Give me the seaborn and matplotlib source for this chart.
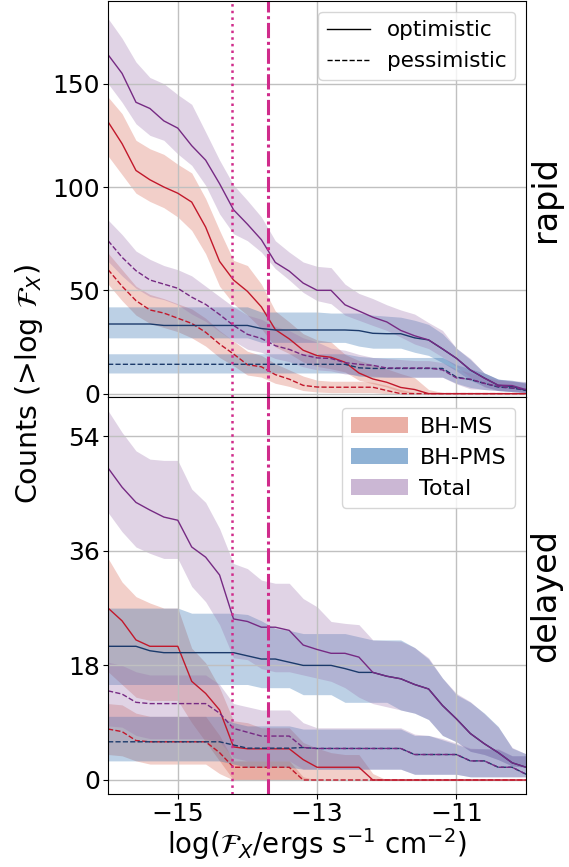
import pandas as pd
import seaborn as sns
import matplotlib
matplotlib.use("Agg")
import matplotlib.pyplot as plt
from matplotlib.lines import Line2D
from matplotlib.patches import Patch

# x grid, log flux
logF = [-16.0, -15.8, -15.6, -15.4, -15.2, -15.0, -14.8, -14.6, -14.4, -14.2, -14.0,
        -13.8, -13.6, -13.4, -13.2, -13.0, -12.8, -12.6, -12.4, -12.2, -12.0,
        -11.8, -11.6, -11.4, -11.2, -11.0, -10.8, -10.6, -10.4, -10.2, -10.0]

#### rapid
rapid_ms_opt = [131.5, 121, 108, 103.5, 100, 97, 92.7, 80.6, 64, 55, 49.5, 42, 31, 26.5, 21, 18.4,
                17.6, 15.2, 10, 7.1, 5.5, 3, 2, 0, 0, 0, 0, 0, 0, 0, 0]
rapid_ms_opt_hi = [143.5, 135.5, 122.6, 118.5, 115.8, 111, 106.8, 94.4, 79, 64.5, 62, 53, 40, 34.7, 29, 26,
                   25, 19, 16, 14.2, 12, 9.7, 7.7, 2, 0.5, 0.5, 0.5, 0.5, 0.5, 0.5, 0.5]
rapid_ms_opt_lo = [115, 106, 97, 93, 90, 85.5, 79, 67.7, 52, 43.5, 38, 31.5, 22.6, 19.4, 15.3, 13.2,
                   12, 10.5, 6.5, 4.8, 3.2, 0.8, 0.3, 0, 0, 0, 0, 0, 0, 0, 0]
rapid_ms_pes = [60, 52, 45, 40.5, 39, 36.5, 34, 29.7, 24, 19.2, 14, 13, 9.2, 7, 4, 3.2,
                3.1, 3.1, 3.1, 3.1, 1.5, 0, 0, 0, 0, 0, 0, 0, 0, 0, 0]
rapid_ms_pes_hi = [68, 60, 52, 48, 46, 43.5, 41, 36.5, 30.5, 25.5, 20.5, 18.5, 14.5, 11.5, 8.5, 6.5,
                   6, 6, 6, 5.5, 4, 2, 0.5, 0, 0, 0, 0, 0, 0, 0, 0]
rapid_ms_pes_lo = [53, 45, 38, 34, 32, 30, 27, 23, 17.5, 13.5, 9, 8, 5, 3.5, 1.5, 0.8,
                   0.5, 0.5, 0.5, 0.5, 0, 0, 0, 0, 0, 0, 0, 0, 0, 0, 0]

rapid_pms_opt = [33.7, 33.7, 33.7, 33.7, 33, 33, 33, 33, 33, 33, 33, 31.5, 30.8, 30.8, 30.8, 30.8,
                 30.8, 30.8, 30.5, 29.2, 29, 29, 27, 26, 21.6, 17.1, 11.4, 7.6, 4, 3.5, 1.5]
rapid_pms_opt_hi = [42, 42, 42, 42, 42, 42, 42, 42, 42, 42, 42, 39.5, 39.5, 39.5, 39.5, 39.5,
                    39, 39, 39, 38, 37.5, 37, 35.5, 33.5, 29, 22, 16.5, 10, 7, 6, 5.5]
rapid_pms_opt_lo = [27, 27, 27, 27, 27, 27, 27, 27, 27, 27, 27, 24.8, 24.8, 24.8, 24.8, 24.8,
                    24.8, 24.8, 23, 22, 22, 22, 20, 18.5, 15, 11, 6.5, 3.5, 1.5, 1, 0.5]
rapid_pms_pes = [14.2, 14.2, 14.2, 14.2, 14.2, 14.2, 14.2, 14.2, 14.2, 14.2, 14.2, 14.2, 14.2, 14.2, 14.2, 14.2,
                 14.2, 14.2, 12.5, 12.2, 12.2, 12.2, 12.2, 12.2, 12.2, 8, 6.8, 5, 3.2, 2.7, 1.6]
rapid_pms_pes_hi = [19.3, 19.3, 19.3, 19.3, 19.3, 19.3, 19.3, 19.3, 19.3, 19.3, 19.3, 19.3, 19.3, 19.3, 19.3, 19.3,
                    19.3, 19.3, 18, 17.5, 17.5, 17.5, 17.5, 17.5, 17.5, 14, 12, 10, 7, 6.5, 5]
rapid_pms_pes_lo = [10, 10, 10, 10, 10, 10, 10, 10, 10, 10, 10, 10, 10, 10, 10, 10,
                    10, 10, 8.5, 8, 8, 8, 8, 8, 8, 5, 3, 2, 1.5, 1, 0.5]

rapid_tot_opt = [164, 155, 141, 138, 132, 128.5, 120, 113, 101.6, 89, 82, 74.5, 63.5, 59.3, 53.5, 50,
                 50, 43, 40, 37, 34.7, 30.6, 28, 26, 21.7, 17.1, 11.5, 7.5, 4.1, 3.9, 1.9]
rapid_tot_opt_hi = [181.5, 172, 160.5, 153, 150, 144.7, 140, 126.6, 113, 101, 93.5, 85.5, 74, 68.5, 63.7, 61.6,
                    61, 53, 48.5, 46, 43, 40.5, 38.5, 34.4, 30.6, 22, 17, 10, 7, 6.3, 5.8]
rapid_tot_opt_lo = [150, 141, 130.6, 125, 122.6, 116, 110.5, 100.8, 87, 77.4, 74, 68.5, 60.5, 55, 49, 45,
                    43.5, 38, 35.5, 33, 30.6, 27.4, 24, 21.8, 17.7, 13, 8, 3.2, 1.6, 1.3, 0.8]
rapid_tot_pes = [74, 66, 59.5, 55, 53, 51, 46.7, 43.2, 38.3, 33, 28.7, 26.7, 23.2, 21.4, 18.7, 17.3,
                 17, 15, 14.2, 13.7, 12.4, 12.4, 12.4, 12.4, 11.5, 7.6, 7, 5, 3.5, 2.8, 2]
rapid_tot_pes_hi = [84, 77, 69, 65, 62, 60, 57, 52, 47, 42, 38, 36, 32.5, 30.5, 27, 25,
                    22, 21, 19, 17.5, 17, 16.5, 16, 16, 15, 12, 10, 8, 6.5, 6, 5]
rapid_tot_pes_lo = [64, 57, 51, 47, 45.5, 43, 38.5, 35, 30, 25.5, 21.5, 20, 17, 15.5, 13, 11.5,
                    11, 9.5, 9, 8.5, 8, 7.9, 7.9, 7.9, 7.9, 4.7, 2.3, 2, 1.5, 1, 0.5]

#### delayed
delayed_ms_opt = [27, 25, 22, 21, 21, 21, 15.5, 13.6, 11, 5.2, 4.9, 4.9, 4.9, 4.9, 3.2, 2,
                  2, 2, 2, 0, 0, 0, 0, 0, 0, 0, 0, 0, 0, 0, 0]
delayed_ms_opt_hi = [34.8, 31.1, 28.8, 27.8, 27, 27, 20.7, 18.4, 14.5, 9.3, 9, 8.2, 8.2, 8.2, 5.9, 5,
                     4.3, 4, 4, 1, 0, 0, 0, 0, 0, 0, 0, 0, 0, 0, 0]
delayed_ms_opt_lo = [17, 15, 13, 12.5, 12.5, 12.5, 9, 6, 3, 0, 0, 0, 0, 0, 0, 0,
                     0, 0, 0, 0, 0, 0, 0, 0, 0, 0, 0, 0, 0, 0, 0]
delayed_ms_pes = [8, 7.6, 6.2, 6, 6, 6, 6, 6, 4.3, 2, 2, 2, 2, 2, 0, 0,
                  0, 0, 0, 0, 0, 0, 0, 0, 0, 0, 0, 0, 0, 0, 0]
delayed_ms_pes_hi = [12, 11.8, 10.5, 10, 10, 10, 10, 10, 7, 3, 3, 3, 3, 3, 0.5, 0,
                     0, 0, 0, 0, 0, 0, 0, 0, 0, 0, 0, 0, 0, 0, 0]
delayed_ms_pes_lo = [4, 3.8, 3, 2.5, 2.5, 2.5, 2.5, 2.5, 1, 0, 0, 0, 0, 0, 0, 0,
                     0, 0, 0, 0, 0, 0, 0, 0, 0, 0, 0, 0, 0, 0, 0]

delayed_pms_opt = [21, 21, 21, 20.3, 20, 20, 20, 20, 20, 20, 19.5, 19, 19, 18.5, 18, 18,
                   18, 17.5, 16.9, 16.9, 16.3, 15.9, 15, 14.3, 11.7, 9.6, 7.3, 5.7, 4.3, 2.7, 2]
delayed_pms_opt_hi = [27, 27, 27, 27, 27, 27, 26.2, 26.2, 26.2, 26.2, 26, 25, 23.8, 23.5, 23, 23,
                      23, 23, 22.5, 22, 22, 22, 20.8, 19, 16, 13.4, 12.2, 10.5, 8.4, 5, 4.1]
delayed_pms_opt_lo = [15, 15, 15, 15, 15, 15, 15, 15, 15, 15, 15, 14.5, 14.5, 14.5, 13.4, 13.4,
                      13.4, 12.2, 12.2, 12.2, 12.2, 11, 10.5, 9.5, 7, 6, 4.5, 4, 3.2, 2.2, 2]
delayed_pms_pes = [6, 6, 6, 6, 6, 6, 6, 6, 6, 5.5, 5, 5, 5, 5, 5.1, 4.95,
                   4.95, 4.95, 4.95, 4.95, 4.95, 4.95, 4, 4, 4, 4, 3, 3, 2, 2, 0.9]
delayed_pms_pes_hi = [10, 10, 10, 10, 10, 10, 10, 10, 10, 9, 8.5, 8.5, 8.5, 8.5, 8, 8,
                      8, 8, 8, 8, 8, 8, 7, 7, 6.3, 5.6, 4.9, 4.9, 4.8, 3.8, 3.8]
delayed_pms_pes_lo = [3, 3, 3, 3, 3, 3, 3, 3, 3, 2.5, 2, 2, 2, 2, 1.7, 1.7,
                      1.7, 1.7, 1.7, 1.7, 1.7, 1.7, 0.9, 0.9, 0.9, 0.9, 0.5, 0.5, 0.5, 0.5, 0.5]

delayed_tot_opt = [49, 46, 43.6, 42.4, 41.3, 40.8, 36.6, 35, 32.2, 25.3, 24.9, 24, 24, 23.5, 21.2, 20.5,
                   19.9, 19.9, 19.3, 16.9, 16.3, 15.9, 15, 14.3, 11.7, 9.6, 7.3, 5.7, 4.3, 2.7, 2]
delayed_tot_opt_hi = [58, 54.6, 51.7, 50.4, 50.2, 50.2, 45.7, 43.6, 39.5, 34, 33.2, 31.4, 30.9, 30.9, 28.5, 27.2,
                      24.9, 24.6, 24.4, 22, 21.9, 21.8, 20.8, 19.2, 16, 13.6, 12.3, 10.4, 8.3, 5.1, 4.1]
delayed_tot_opt_lo = [42, 39, 36.6, 35.6, 34.8, 34.8, 30.4, 28, 24.4, 19.2, 18.9, 17.5, 17, 17, 16.5, 16,
                      15.5, 14.5, 13, 12, 11.5, 11, 10.5, 9.5, 7, 6, 4.5, 4, 3.2, 2.2, 2]
delayed_tot_pes = [14, 13.5, 12.2, 12, 12, 12, 12, 12, 10.5, 8.1, 7.5, 6.9, 6.9, 6.9, 5.1, 4.95,
                   4.95, 4.95, 4.95, 4.95, 4.95, 4.95, 4, 4, 4, 4, 3, 3, 2, 2, 0.9]
delayed_tot_pes_hi = [18.5, 18, 17, 16.5, 16.5, 16.5, 16.5, 16.5, 15, 12, 11.5, 11, 11, 11, 9, 8.2,
                      8.2, 8.2, 8.2, 8.2, 8.2, 8.2, 7.2, 7, 6.5, 5.8, 5, 4.9, 4.9, 3.8, 3.8]
delayed_tot_pes_lo = [8.5, 8.3, 7, 6.5, 6.5, 6.5, 6.5, 6.5, 6, 3.5, 3, 3, 3, 3, 1.7, 1.7,
                      1.7, 1.7, 1.7, 1.7, 1.7, 1.7, 0.9, 0.9, 0.9, 0.9, 0.5, 0.5, 0.5, 0.5, 0.5]

# thresholds (vertical lines)
flux_lim_dotted = -14.22
flux_lim_dashdot = -13.7

series = {
    ('rapid', 'BH-MS', 'optimistic'): (rapid_ms_opt, rapid_ms_opt_lo, rapid_ms_opt_hi),
    ('rapid', 'BH-MS', 'pessimistic'): (rapid_ms_pes, rapid_ms_pes_lo, rapid_ms_pes_hi),
    ('rapid', 'BH-PMS', 'optimistic'): (rapid_pms_opt, rapid_pms_opt_lo, rapid_pms_opt_hi),
    ('rapid', 'BH-PMS', 'pessimistic'): (rapid_pms_pes, rapid_pms_pes_lo, rapid_pms_pes_hi),
    ('rapid', 'Total', 'optimistic'): (rapid_tot_opt, rapid_tot_opt_lo, rapid_tot_opt_hi),
    ('rapid', 'Total', 'pessimistic'): (rapid_tot_pes, rapid_tot_pes_lo, rapid_tot_pes_hi),
    ('delayed', 'BH-MS', 'optimistic'): (delayed_ms_opt, delayed_ms_opt_lo, delayed_ms_opt_hi),
    ('delayed', 'BH-MS', 'pessimistic'): (delayed_ms_pes, delayed_ms_pes_lo, delayed_ms_pes_hi),
    ('delayed', 'BH-PMS', 'optimistic'): (delayed_pms_opt, delayed_pms_opt_lo, delayed_pms_opt_hi),
    ('delayed', 'BH-PMS', 'pessimistic'): (delayed_pms_pes, delayed_pms_pes_lo, delayed_pms_pes_hi),
    ('delayed', 'Total', 'optimistic'): (delayed_tot_opt, delayed_tot_opt_lo, delayed_tot_opt_hi),
    ('delayed', 'Total', 'pessimistic'): (delayed_tot_pes, delayed_tot_pes_lo, delayed_tot_pes_hi),
}

rows = []
for (ch, pop, model), (med, lo, hi) in series.items():
    for x, m, l, h in zip(logF, med, lo, hi):
        rows.append({'channel': ch, 'population': pop, 'model': model,
                     'logF': x, 'median': m, 'lo': l, 'hi': h})
df = pd.DataFrame(rows)

line_cols = {'BH-MS': '#c2182b', 'BH-PMS': '#1b3a6b', 'Total': '#762a83'}
band_cols = {'BH-MS': '#d6604d', 'BH-PMS': '#2166ac', 'Total': '#9970ab'}
vcol = '#d02b8b'

fig = plt.figure(figsize=(5.69, 8.67), dpi=100)
ax_top = fig.add_axes([0.19, 0.5424, 0.7346, 0.4564])
ax_bot = fig.add_axes([0.19, 0.0842, 0.7346, 0.4582], sharex=ax_top)

for ax, ch in zip([ax_top, ax_bot], ['rapid', 'delayed']):
    sub = df[df['channel'] == ch]
    for (pop, model), g in sub.groupby(['population', 'model'], sort=False):
        ax.fill_between(g['logF'], g['lo'], g['hi'], color=band_cols[pop], alpha=0.3, lw=0)
    sns.lineplot(data=sub, x='logF', y='median', hue='population', style='model',
                 palette=line_cols, dashes={'optimistic': '', 'pessimistic': (3.7, 1.6)},
                 estimator=None, lw=1.0, legend=False, ax=ax)
    ax.axvline(flux_lim_dotted, color=vcol, ls=':', lw=1.8)
    ax.axvline(flux_lim_dashdot, color=vcol, ls=(0, (5, 1.2, 1, 1.2)), lw=2.2)
    ax.grid(True, color='#c0c0c0', lw=1.0)
    ax.set_xlabel('')
    ax.set_ylabel('')
    ax.tick_params(labelsize=18, pad=2.5)
    ax.text(1.008, 0.5, ch, rotation=90, va='center', ha='left',
            fontsize=24, transform=ax.transAxes)

ax_top.set_xlim(-16, -10)
ax_top.set_xticks([-15, -13, -11])
ax_top.set_ylim(-1.5, 190)
ax_top.set_yticks([0, 50, 100, 150])
ax_top.tick_params(labelbottom=False)
ax_bot.set_ylim(-2.2, 60.2)
ax_bot.set_yticks([0, 18, 36, 54])

ax_bot.set_xlabel(r'log($\mathcal{F}_X$/ergs s$^{-1}$ cm$^{-2}$)', fontsize=20, labelpad=0)
fig.text(0.051, 0.557, r'Counts (>log $\mathcal{F}_X$)', rotation=90,
         va='center', ha='center', fontsize=20.5)

model_handles = [Line2D([0], [0], color='k', lw=1.0, ls='-', label='optimistic'),
                 Line2D([0], [0], color='k', lw=1.0, dashes=(3.7, 1.6), label='pessimistic')]
ax_top.legend(handles=model_handles, loc='upper right', fontsize=15.5)

pop_handles = [Patch(facecolor=band_cols[p], alpha=0.5, lw=0, label=p)
               for p in ['BH-MS', 'BH-PMS', 'Total']]
ax_bot.legend(handles=pop_handles, loc='upper right', fontsize=16,
              handlelength=2.6, handleheight=0.75, handletextpad=0.5)

fig.savefig('out.png', dpi=100)
